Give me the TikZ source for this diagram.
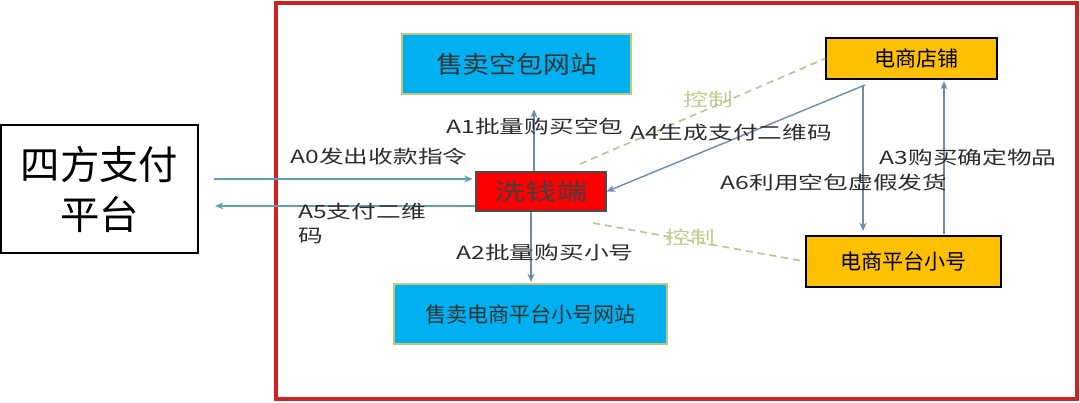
\documentclass[tikz,border=0pt]{standalone}
\usepackage{fontspec}
\setmainfont{Noto Sans CJK SC}
\newfontfamily\wide[FakeStretch=1.35]{Noto Sans CJK SC}
\newfontfamily\boxwide[FakeStretch=1.12]{Noto Sans CJK SC}
\usepackage{tikz}
\usetikzlibrary{arrows.meta,calc}
\definecolor{frame}{RGB}{205,35,35}
\definecolor{skyfill}{RGB}{0,176,240}
\definecolor{skyline}{RGB}{190,200,120}
\definecolor{goldfill}{RGB}{255,192,0}
\definecolor{tealarr}{RGB}{95,160,180}
\definecolor{greyarr}{RGB}{110,140,172}
\definecolor{ctrlline}{RGB}{200,192,150}
\definecolor{ctrltext}{RGB}{188,208,140}
\definecolor{labeltext}{RGB}{45,45,45}
\newcommand\labelfont{\wide\fontsize{13pt}{17pt}\selectfont}

\begin{document}
\begin{tikzpicture}[x=0.025cm, y=-0.025cm,
  skybox/.style={draw=skyline, fill=skyfill, line width=0.8pt, inner sep=0pt, text=black!80},
  goldbox/.style={draw=black, fill=goldfill, line width=1pt, inner sep=0pt},
  flow/.style={draw=greyarr, line width=1pt, -{Stealth[length=6pt,width=5pt]}},
  payflow/.style={draw=tealarr, line width=1pt, -{Stealth[length=6pt,width=5pt]}},
  ctrl/.style={draw=ctrlline, line width=1.2pt, dash pattern=on 5pt off 3.5pt},
  lbl/.style={text=labeltext, inner sep=0pt, font=\labelfont},
  ctrllbl/.style={text=ctrltext, inner sep=0pt, font=\labelfont}]
\useasboundingbox (0,0) rectangle (1080,402);

% outer frame
\draw[frame, line width=2.2pt] (276,3) rectangle (1077,399);

% boxes
\node[draw=black, line width=0.9pt, minimum width=4.925cm, minimum height=3.2cm,
  align=center, inner sep=0pt, font=\fontsize{28pt}{35.5pt}\selectfont]
  (sifang) at (99.5,189) {四方支付\\平台};
\node[skybox, minimum width=5.725cm, minimum height=1.5cm,
  font=\boxwide\fontsize{17pt}{20pt}\selectfont] (kongbao) at (516.5,64) {售卖空包网站};
\node[draw=black!70, fill=red, line width=0.8pt, inner sep=0pt,
  minimum width=3.25cm, minimum height=0.975cm,
  font=\wide\fontsize{16.5pt}{20pt}\selectfont, text=black!75] (xiqian) at (541,191.5) {洗钱端};
\node[skybox, minimum width=6.825cm, minimum height=1.5cm,
  font=\fontsize{15pt}{18pt}\selectfont] (xiaohaoweb) at (530.5,314) {售卖电商平台小号网站};
\node[goldbox, minimum width=4.275cm, minimum height=1.025cm,
  font=\fontsize{15pt}{18pt}\selectfont] (dianpu) at (911.5,58.5) {\hspace{7pt}电商店铺};
\node[goldbox, minimum width=4.875cm, minimum height=1.275cm,
  font=\fontsize{15pt}{18pt}\selectfont] (xiaohao) at (903.5,261.5) {电商平台小号};

% guide points
\coordinate (payin) at (214,179);
\coordinate (payout) at (215,206);
\coordinate (vA1) at (534,0);
\coordinate (vA2) at (531,0);
\coordinate (vA6) at (863,0);
\coordinate (vA3) at (944,0);
\coordinate (a4start) at (865,85);
\coordinate (ctrlup) at (580,164);
\coordinate (ctrldown) at (593,223);

% control lines
\draw[ctrl] (ctrlup) -- (dianpu.west);
\draw[ctrl] (ctrldown) -- (xiaohao.west);
\node[ctrllbl] (ctrlA) at (708,100) {控制};
\node[ctrllbl] (ctrlB) at (690,238) {控制};

% flows
\draw[payflow, shorten >=2pt] (payin) -- (xiqian.west |- payin);
\draw[payflow] (xiqian.west |- payout) -- (payout);
\draw[flow, shorten >=10.5pt] (xiqian.north -| vA1) -- (kongbao.south -| vA1);
\draw[flow, shorten >=1pt] (xiqian.south -| vA2) -- (xiaohaoweb.north -| vA2);
\draw[flow] (a4start) -- (xiqian.east);
\draw[flow, shorten <=4pt, shorten >=3pt] (dianpu.south -| vA6) -- (xiaohao.north -| vA6);
\draw[flow, shorten <=1pt, shorten >=1pt] (xiaohao.north -| vA3) -- (dianpu.south -| vA3);

% labels
\node[lbl] (lA0) at (379,157) {A0发出收款指令};
\node[lbl, align=left, anchor=north west] (lA5) at (298,203) {A5支付二维\\码};
\node[lbl] (lA1) at (535,127) {A1批量购买空包};
\node[lbl] (lA4) at (731,133) {A4生成支付二维码};
\node[lbl] (lA6) at (834,183) {A6利用空包虚假发货};
\node[lbl] (lA3) at (968,158) {A3购买确定物品};
\node[lbl] (lA2) at (545,253) {A2批量购买小号};
\end{tikzpicture}
\end{document}
